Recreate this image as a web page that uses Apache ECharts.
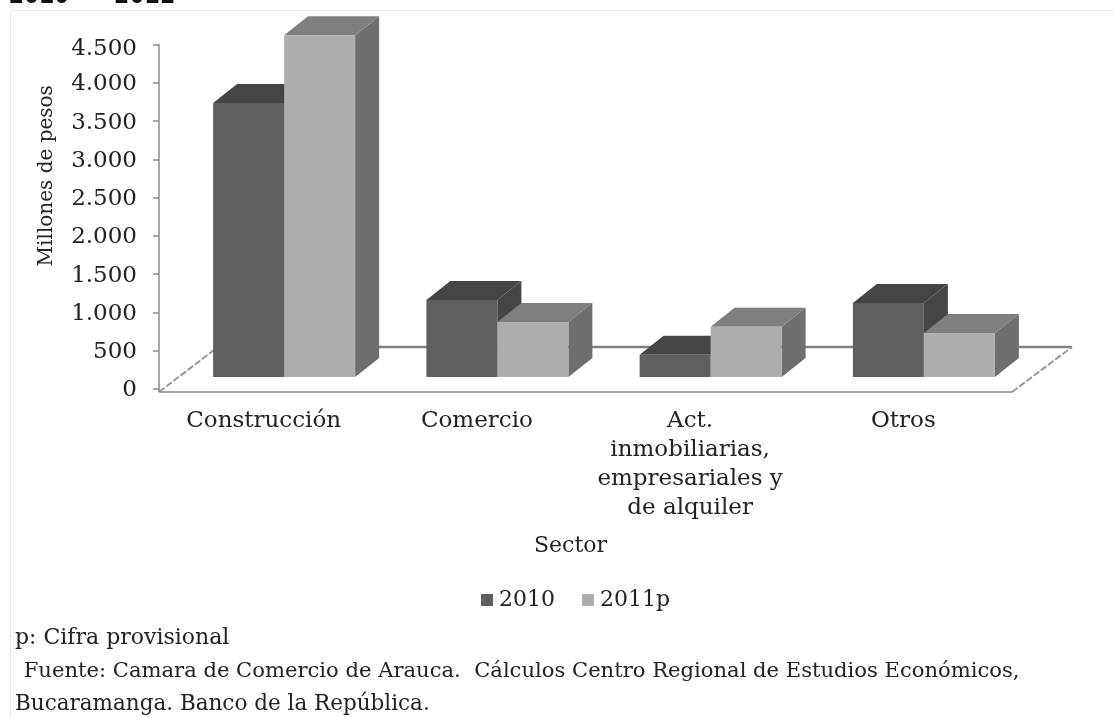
<!DOCTYPE html>
<html><head><meta charset="utf-8">
<style>html,body{margin:0;padding:0;background:#fff}#c{width:1113px;height:717px}</style>
<script src="https://cdn.jsdelivr.net/npm/echarts@6/dist/echarts.min.js"></script>
</head><body><div id="c"></div>
<script>
const categories = ['Construcción','Comercio','Act.\ninmobiliarias,\nempresariales y\nde alquiler','Otros'];
const values2010 = [3580,1005,290,965];
const values2011 = [4465,720,655,575];
const yTicks = {min:0,max:4500,interval:500};
const seriesNames = ['2010','2011p'];
const FONT = '"DejaVu Serif"';

const DX=24, DY=19, LIFT=12, SHIFT=18.5, BARW=71;
const PALETTE = [
  {front:'#5f5f5f',top:'#454545',side:'#454545'},
  {front:'#aeaeae',top:'#7f7f7f',side:'#6f6f6f'}
];
function box(idx,offset){
  return function(params,api){
    const p=api.coord([api.value(0),api.value(1)]);
    const b=api.coord([api.value(0),0]);
    const w=api.size([1,0])[0];
    const x0=p[0]-w/2+SHIFT+(w-2*BARW)/2+offset*BARW;
    const x1=x0+BARW, yt=p[1]-LIFT, yb=b[1]-LIFT;
    const c=PALETTE[idx];
    return {type:'group',children:[
      {type:'polygon',shape:{points:[[x1,yb],[x1+DX,yb-DY],[x1+DX,yt-DY],[x1,yt]]},style:{fill:c.side}},
      {type:'polygon',shape:{points:[[x0,yt],[x0+DX,yt-DY],[x1+DX,yt-DY],[x1,yt]]},style:{fill:c.top}},
      {type:'rect',shape:{x:x0,y:yt,width:BARW,height:yb-yt},style:{fill:c.front}}
    ]};
  };
}
function floor(params,api){
  const cs=params.coordSys, L=cs.x, R=cs.x+cs.width, B=cs.y+cs.height;
  const st={stroke:'#8a8a8a',lineWidth:1.5,fill:'none'};
  const back={stroke:'#808080',lineWidth:2.5,fill:'none'};
  const diag={stroke:'#9a9a9a',lineWidth:2,fill:'none',lineDash:[7,2]};
  return {type:'group',children:[
    {type:'line',shape:{x1:L+55,y1:B-42,x2:R+60,y2:B-42},style:back},
    {type:'line',shape:{x1:L,y1:B+3,x2:L+55,y2:B-39},style:diag},
    {type:'line',shape:{x1:R,y1:B+3,x2:R+60,y2:B-42},style:diag},
    {type:'line',shape:{x1:L,y1:B+3,x2:R,y2:B+3},style:st},
    {type:'line',shape:{x1:L,y1:B,x2:L,y2:B+3},style:st}
  ]};
}
const tickStyle={fontFamily:FONT,fontSize:23,color:'#222'};
const chart=echarts.init(document.getElementById('c'),null,{renderer:'canvas'});
chart.setOption({
  animation:false,backgroundColor:'#fff',
  graphic:[
    {type:'rect',z:-1,shape:{x:10.5,y:10.5,width:1120,height:730,r:3},style:{fill:'#fff',stroke:'#e6e6e6',lineWidth:1}},
    {type:'text',left:9,top:-16,style:{text:'2010 - 2011',fill:'#111',font:'bold 25px "DejaVu Sans Mono"'}},
    {type:'text',left:15,top:627,style:{text:'p: Cifra provisional',fill:'#222',font:'22px '+FONT}},
    {type:'text',left:17,top:661,style:{text:' Fuente: Camara de Comercio de Arauca.  Cálculos Centro Regional de Estudios Económicos,',fill:'#222',font:'21.1px '+FONT}},
    {type:'text',left:15,top:693,style:{text:'Bucaramanga. Banco de la República.',fill:'#222',font:'21.5px '+FONT}}
  ],
  grid:{left:159,right:101,top:44.5,bottom:328,containLabel:false},
  legend:{data:seriesNames,left:476,top:584,itemWidth:12,itemHeight:12,itemGap:27,icon:'rect',
    textStyle:{fontFamily:FONT,fontSize:22,color:'#222',padding:[0,0,0,1]}},
  xAxis:{type:'category',data:categories,offset:3,axisTick:{show:false},
    axisLine:{show:false},
    axisLabel:{interval:0,margin:15,fontFamily:FONT,fontSize:23,color:'#222',lineHeight:29,padding:[0,4,0,0]},
    name:'Sector',nameLocation:'middle',nameGap:143,nameTextStyle:{fontFamily:FONT,fontSize:22,color:'#222',padding:[0,30,0,0]}},
  yAxis:{type:'value',min:yTicks.min,max:yTicks.max,interval:yTicks.interval,
    axisLine:{show:true,lineStyle:{color:'#8a8a8a',width:1.5}},
    axisTick:{show:true,length:6,lineStyle:{color:'#8a8a8a',width:1.5}},
    splitLine:{show:false},
    axisLabel:{margin:22,fontFamily:FONT,fontSize:23,color:'#222',
      rich:{n:{...tickStyle,padding:[3,0,0,0]},t:{...tickStyle,padding:[10,0,0,0]}},
      formatter:v=>'{'+(v===yTicks.max?'t':'n')+'|'+String(v).replace(/\B(?=(\d{3})+$)/,'.')+'}'},
    name:'Millones de pesos',nameLocation:'middle',nameGap:102,nameRotate:90,
    nameTextStyle:{fontFamily:FONT,fontSize:20,color:'#222',padding:[0,0,0,82]}},
  series:[
    {type:'custom',name:'floor',silent:true,z:1,renderItem:floor,data:[[0,0]],encode:{x:0,y:1},legendHoverLink:false},
    {type:'custom',name:seriesNames[0],z:2,color:'#5f5f5f',renderItem:box(0,0),data:values2010.map((v,i)=>[i,v]),encode:{x:0,y:1}},
    {type:'custom',name:seriesNames[1],z:3,color:'#aeaeae',renderItem:box(1,1),data:values2011.map((v,i)=>[i,v]),encode:{x:0,y:1}}
  ]
});
</script></body></html>
